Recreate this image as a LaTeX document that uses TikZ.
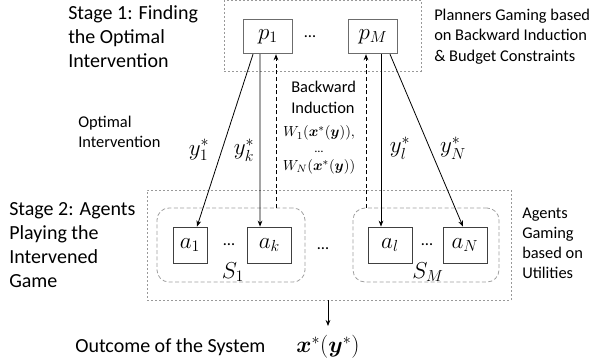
\documentclass[tikz,border=0pt]{standalone}
\usepackage{amsmath}
\usepackage{fontspec}
\setmainfont{Carlito}
\usetikzlibrary{arrows.meta}
\tikzset{
  stagebox/.style={draw=gray!80, line width=0.6pt, dash pattern=on 1.5pt off 1.5pt, inner sep=0pt},
  groupbox/.style={draw=gray!75, line width=0.6pt, dash pattern=on 3pt off 1.8pt, rounded corners=9pt, inner sep=0pt, minimum height=55.5pt},
  pbox/.style={draw=gray!85!black, line width=0.6pt, fill=white, inner sep=0pt, minimum width=37pt, minimum height=26pt, font=\fontsize{16.5}{18}\selectfont},
  abox/.style={draw=black!75, line width=0.6pt, inner sep=0pt, minimum width=33pt, minimum height=27pt, font=\fontsize{16.5}{18}\selectfont},
  bigtext/.style={align=left, anchor=west, inner sep=0pt, font=\fontsize{15}{18}\selectfont},
  smalltext/.style={align=left, anchor=west, inner sep=0pt, font=\fontsize{12.3}{15.3}\selectfont},
  mathlbl/.style={inner sep=0pt, font=\fontsize{16.5}{18}\selectfont},
  fwd/.style={line width=0.6pt, -{Stealth[length=4.5pt,width=3.5pt]}},
  back/.style={line width=0.6pt, dash pattern=on 3pt off 2pt, -{Stealth[length=4.5pt,width=3.5pt]}}
}
\begin{document}
\begin{tikzpicture}[x=0.75pt,y=-0.75pt]
	\useasboundingbox (0,0) rectangle (607,362);

	% Stage 1: planners
	\node[stagebox, minimum width=147.75pt, minimum height=53pt] (top) at (322.5,35.75) {};
	\node[pbox] (p1) at (268,36.5) {$p_1$};
	\node[pbox] (pM) at (373,36.5) {$p_M$};
	\node[smalltext, anchor=center] (pdots) at (310,37) {\dots};
	\node[bigtext] (stage1) at (68,36.5) {Stage 1: Finding\\the Optimal\\Intervention};
	\node[smalltext] (planners) at (434,36.5) {Planners Gaming based\\on Backward Induction\\\& Budget Constraints};

	% Stage 2: agents
	\node[stagebox, minimum width=273pt, minimum height=82.5pt] (sys) at (329,245) {};
	\node[groupbox, minimum width=111pt] (S1) at (231,245) {};
	\node[groupbox, minimum width=109.5pt] (SM) at (426,245) {};
	\node[abox, minimum width=25.5pt] (a1) at (190,245) {$a_1$};
	\node[abox] (ak) at (269.5,245) {$a_k$};
	\node[abox] (al) at (390,245) {$a_l$};
	\node[abox] (aN) at (465,245) {$a_N$};
	\node[smalltext, anchor=center] (dots1) at (229,245) {\dots};
	\node[smalltext, anchor=center] (dots2) at (427,245) {\dots};
	\node[smalltext, anchor=center] (dots3) at (323,249) {\dots};
	\node[mathlbl] (s1lbl) at (233,272) {$S_1$};
	\node[mathlbl] (smlbl) at (428,272) {$S_M$};
	\node[bigtext] (stage2) at (9,245.5) {Stage 2: Agents\\Playing the\\Intervened\\Game};
	\node[smalltext, font=\fontsize{12.3}{15}\selectfont] (agents) at (522,243) {Agents\\Gaming\\based on\\Utilities};

	% labels between the stages
	\node[smalltext, font=\fontsize{12.3}{15}\selectfont] (optint) at (78,132) {Optimal\\Intervention};
	\node[smalltext, font=\fontsize{12.3}{15.5}\selectfont] (bwd) at (291,97.5) {Backward\\Induction};
	\node[inner sep=0pt, align=center, font=\fontsize{11}{13}\selectfont] (wlbl) at (319,150)
		{$W_1(\boldsymbol{x}^*(\boldsymbol{y})),$\\[-1pt]{\fontsize{9}{9}\selectfont\dots}\\[0pt]$W_N(\boldsymbol{x}^*(\boldsymbol{y}))$};
	\node[mathlbl] (y1) at (199,150) {$y_1^*$};
	\node[mathlbl] (yk) at (244,150) {$y_k^*$};
	\node[mathlbl] (yl) at (400,148) {$y_l^*$};
	\node[mathlbl] (yN) at (453,148) {$y_N^*$};

	% outcome
	\node[bigtext] (outtxt) at (75,347) {Outcome of the System};
	\node[mathlbl] (xout) at (328,347) {$\boldsymbol{x}^*(\boldsymbol{y}^*)$};
	\coordinate (outtip) at (328,326);

	% optimal intervention
	\draw[fwd] ([xshift=-11.25pt]p1.south) -- ([xshift=5.25pt]a1.north);
	\draw[fwd] ([xshift=-6pt]p1.south) -- ([xshift=-7.1pt]ak.north);
	\draw[fwd] ([xshift=6pt]pM.south) -- ([xshift=-6.75pt]al.north);
	\draw[fwd] ([xshift=12.75pt]pM.south) -- ([xshift=-1.5pt]aN.north);

	% backward induction
	\coordinate (b1) at ([xshift=6pt]p1.south);
	\coordinate (b2) at ([xshift=-5.25pt]pM.south);
	\draw[back] (b1 |- S1.north) -- (b1);
	\draw[back] (b2 |- SM.north) -- (b2);

	% outcome arrow
	\draw[fwd] (sys.south -| outtip) -- (outtip);
\end{tikzpicture}
\end{document}
